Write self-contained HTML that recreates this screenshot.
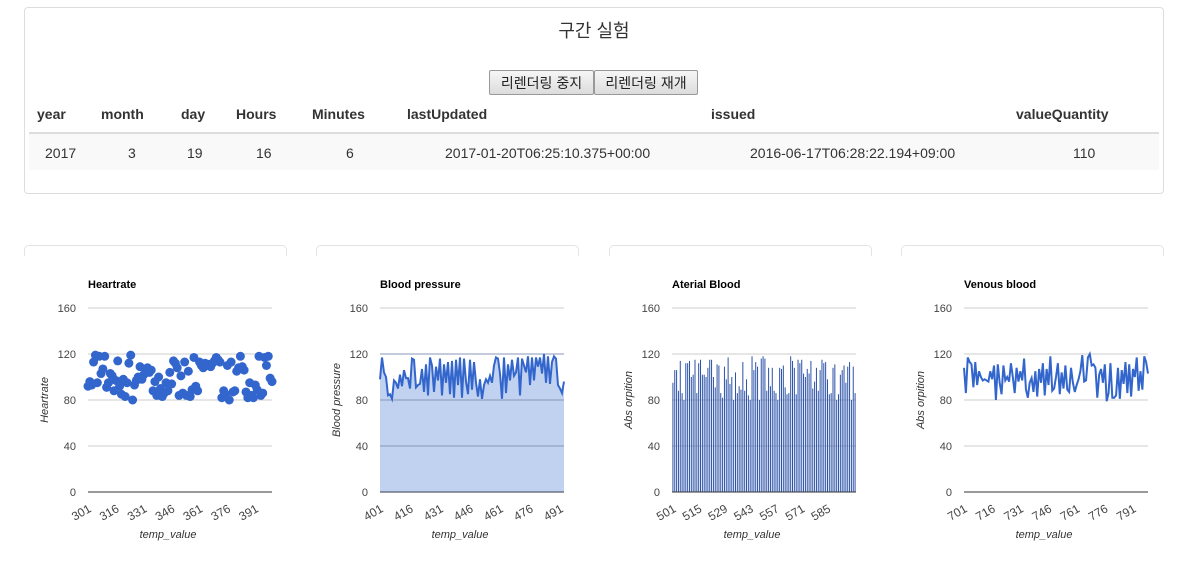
<!DOCTYPE html>
<html><head><meta charset="utf-8">
<style>
body{margin:0;width:1196px;height:573px;background:#fff;font-family:"Liberation Sans","Noto Sans CJK KR",sans-serif;position:relative;overflow:hidden;color:#333}
.abs{position:absolute}
#top{left:24px;top:7px;width:1138px;height:185px;border:1px solid #ddd;border-radius:4px}
.btn{top:70px;height:25px;border:1px solid #999;background:linear-gradient(#f6f6f6,#dcdcdc);font-size:14px;line-height:24px;text-align:center;color:#222;box-sizing:border-box;border-radius:2px}
.th{top:106px;font-size:14px;font-weight:bold;color:#333}
.td{top:145px;font-size:14px;color:#333}
.panel{top:245px;width:261px;height:10px;border:1px solid #e3e3e3;border-bottom:none;border-radius:5px 5px 0 0}
</style></head><body>
<div id="top" class="abs"></div>
<div class="abs" style="left:0;width:1188px;top:17px;text-align:center;font-size:18px;color:#333">구간 실험</div>
<div class="abs btn" style="left:489px;width:105px">리렌더링 중지</div>
<div class="abs btn" style="left:594px;width:104px">리렌더링 재개</div>
<div class="abs" style="left:29px;top:132px;width:1130px;height:2px;background:#ddd"></div>
<div class="abs" style="left:29px;top:134px;width:1130px;height:36px;background:#f9f9f9"></div>
<div class="abs th" style="left:37px">year</div>
<div class="abs th" style="left:101px">month</div>
<div class="abs th" style="left:181px">day</div>
<div class="abs th" style="left:236px">Hours</div>
<div class="abs th" style="left:312px">Minutes</div>
<div class="abs th" style="left:407px">lastUpdated</div>
<div class="abs th" style="left:711px">issued</div>
<div class="abs th" style="left:1016px">valueQuantity</div>
<div class="abs td" style="left:45px">2017</div>
<div class="abs td" style="left:128px">3</div>
<div class="abs td" style="left:187px">19</div>
<div class="abs td" style="left:256px">16</div>
<div class="abs td" style="left:346px">6</div>
<div class="abs td" style="left:445px">2017-01-20T06:25:10.375+00:00</div>
<div class="abs td" style="left:750px">2016-06-17T06:28:22.194+09:00</div>
<div class="abs td" style="left:1073px">110</div>
<div class="abs panel" style="left:24px"></div>
<div class="abs panel" style="left:316px"></div>
<div class="abs panel" style="left:609px"></div>
<div class="abs panel" style="left:901px"></div>
<svg id="charts" class="abs" style="left:0;top:0" width="1196" height="573"></svg>
<script>
const yTicks=[0,40,80,120,160];
const hrTicks=[301,316,331,346,361,376,391];
const bpTicks=[401,416,431,446,461,476,491];
const abTicks=[501,515,529,543,557,571,585];
const vbTicks=[701,716,731,746,761,776,791];
const heartrate=[92,96,93,113,119,95,118,103,107,118,91,95,103,101,88,97,114,92,85,98,83,95,112,119,80,93,97,100,109,98,102,107,108,104,106,88,96,84,100,90,83,86,95,88,104,94,114,112,108,84,101,86,113,84,105,83,89,117,92,88,113,110,108,112,110,111,109,112,114,117,115,113,82,88,85,110,80,113,87,88,105,108,118,109,106,87,82,95,84,82,93,89,118,84,86,117,110,118,99,96];
const bloodPressure=[98,117,104,100,84,85,81,97,95,90,102,92,106,99,99,90,116,115,91,93,94,107,87,111,84,117,110,87,109,97,116,84,111,95,113,85,114,82,115,93,117,82,116,96,85,115,89,113,95,83,98,81,93,98,95,101,95,110,117,116,103,81,117,86,111,97,115,101,104,117,84,116,110,104,118,93,117,97,117,109,117,103,120,95,118,94,113,118,116,93,90,86,96];
const aterialBlood=[95,106,106,88,114,86,80,112,112,114,100,102,115,86,112,115,102,102,100,108,115,115,100,91,111,110,86,82,109,98,117,94,100,80,104,86,92,89,113,88,98,84,80,118,106,113,109,80,116,118,116,88,108,92,108,88,86,80,108,107,110,91,85,86,118,114,108,85,115,112,115,103,100,107,103,114,90,96,108,88,106,115,112,113,98,85,86,108,111,80,85,102,106,110,95,109,113,80,109,86];
const venousBlood=[108,86,117,113,111,91,113,93,105,100,97,98,97,96,105,98,110,80,111,95,85,110,97,100,96,112,100,86,108,96,105,97,116,89,82,95,99,87,105,83,107,95,112,84,107,93,118,88,90,100,112,85,104,90,110,89,87,108,95,87,93,98,105,119,96,97,117,120,110,111,108,82,102,107,95,111,79,86,112,82,82,84,108,81,106,94,113,86,111,83,107,100,117,88,105,89,118,113,103];

const svg=document.getElementById('charts');
const NS='http://www.w3.org/2000/svg';
function el(tag,attrs,parent){const e=document.createElementNS(NS,tag);for(const k in attrs)e.setAttribute(k,attrs[k]);(parent||svg).appendChild(e);return e;}

function chart(left,title,ytitle,data,ticks,startX,kind,key){
  const x0=left,x1=left+184,y0=492,y1=308;
  const n=data.length;
  const xs=i=>kind==='column'? x0+(i+0.5)*(x1-x0)/n : x0+i*(x1-x0)/(n-1);
  const xv=v=>kind==='column'? x0+(v-startX+0.5)*(x1-x0)/n : x0+(v-startX)*(x1-x0)/(n-1);
  const yv=v=>y0-(v/160)*(y0-y1);
  const g=el('g',{});
  
  
  const t=el('text',{x:x0,y:288,'font-size':11,'font-weight':'bold',fill:'#000','font-family':'Liberation Sans, sans-serif'},g);
  t.textContent=title;
  
  
  yTicks.forEach(v=>{
    const ln=el('line',{x1:x0,x2:x1,y1:yv(v),y2:yv(v),stroke:v===0?'#333':'#ccc','stroke-width':1},g);
    
    
    const lb=el('text',{x:x0-12,y:yv(v)+4,'font-size':11,fill:'#444','text-anchor':'end','font-family':'Liberation Sans, sans-serif'},g);
    lb.textContent=v;
    
    
  });
  if(kind==='area'){
    let d='M'+xs(0)+','+y0;data.forEach((v,i)=>d+=' L'+xs(i)+','+yv(v));d+=' L'+xs(n-1)+','+y0+'Z';
    const a=el('path',{d:d,fill:'#3366cc','fill-opacity':0.3,stroke:'none'},g);
    
    
    yTicks.forEach(v=>{if(v>0&&v<160){el('line',{x1:x0,x2:x1,y1:yv(v),y2:yv(v),stroke:'#8797b8','stroke-width':1},g);}});
  }
  if(kind==='area'||kind==='line'){
    const p=el('polyline',{points:data.map((v,i)=>xs(i)+','+yv(v)).join(' '),fill:'none',stroke:'#3366cc','stroke-width':2},g);
    
    
  }
  if(kind==='scatter'){
    data.forEach((v,i)=>{
      const c=el('circle',{cx:xs(i),cy:yv(v),r:4.5,fill:'#3366cc'},g);
      
      
    });
  }
  if(kind==='column'){
    const bw=1;
    data.forEach((v,i)=>{
      const r=el('rect',{x:xs(i)-bw/2,y:yv(v),width:bw,height:y0-yv(v),fill:'#2b52a8'},g);
      
      
    });
    el('line',{x1:x0,x2:x1,y1:y0,y2:y0,stroke:'#333'},g);
  }
  ticks.forEach(v=>{
    const x=xv(v);
    const lb=el('text',{x:x+4,y:511,'font-size':12,fill:'#444','text-anchor':'end',transform:'rotate(-30 '+(x+4)+' 511)','font-family':'Liberation Sans, sans-serif'},g);
    lb.textContent=v;
    
    
  });
  const xt=el('text',{x:(x0+x1)/2-12,y:538,'font-size':11,'font-style':'italic',fill:'#333','text-anchor':'middle','font-family':'Liberation Sans, sans-serif'},g);
  xt.textContent='temp_value';
  
  
  const yt=el('text',{x:0,y:0,'font-size':11,'font-style':'italic',fill:'#333','text-anchor':'middle',transform:'translate('+(x0-40)+',400) rotate(-90)','font-family':'Liberation Sans, sans-serif'},g);
  yt.textContent=ytitle;
  
  
}
chart(88,'Heartrate','Heartrate',heartrate,hrTicks,301,'scatter','heartrate');
chart(380,'Blood pressure','Blood pressure',bloodPressure,bpTicks,401,'area','blood-pressure');
chart(672,'Aterial Blood','Abs orpition',aterialBlood,abTicks,501,'column','aterial-blood');
chart(964,'Venous blood','Abs orpition',venousBlood,vbTicks,701,'line','venous-blood');
</script>
</body></html>
